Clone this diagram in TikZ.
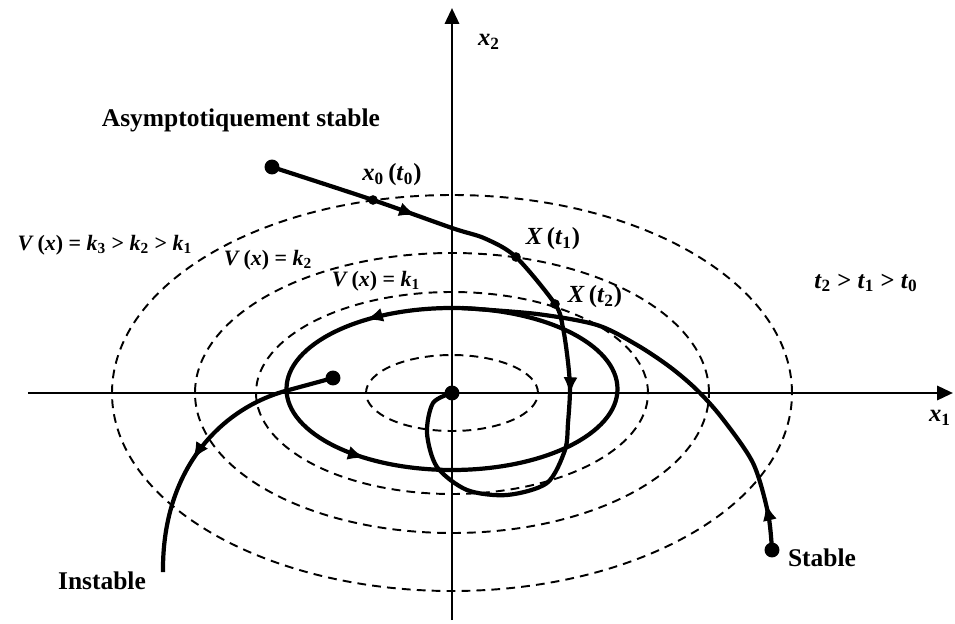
\documentclass[tikz,border=0pt]{standalone}
\usepackage{fontspec}
\setmainfont{Liberation Serif}
\usetikzlibrary{arrows.meta, decorations.markings}
\tikzset{
  axis/.style={line width=1.6pt, -{Triangle[length=9pt, width=8pt]}},
  level/.style={line width=1.1pt, dash pattern=on 5pt off 3.5pt},
  traj/.style={line width=2.4pt},
  midtip/.style={postaction={decorate, decoration={markings,
      mark=at position #1 with {\arrow{Latex[length=10pt, width=8pt]}}}}},
  dot/.style={circle, fill, inner sep=0pt, minimum size=8.5pt},
  smalldot/.style={circle, fill, inner sep=0pt, minimum size=5.5pt},
  title/.style={font=\fontsize{14.5}{16}\selectfont\bfseries},
  lbl/.style={font=\fontsize{12.5}{14}\selectfont\bfseries},
  ptlbl/.style={font=\fontsize{14}{16}\selectfont\bfseries}
}

\begin{document}
\begin{tikzpicture}[x=1cm,y=1cm]
\useasboundingbox (-9.04,-4.6) rectangle (10.06,7.86);

% key points
\coordinate (O) at (0,0);
\coordinate (C) at (0,0.08);
\coordinate (A0) at (-3.6,4.52);
\coordinate (P0) at (-1.58,3.86);
\coordinate (P1) at (1.28,2.72);
\coordinate (P2) at (2.06,1.78);
\coordinate (S0) at (6.4,-3.14);
\coordinate (I0) at (-2.38,0.3);
\coordinate (I1) at (-3.3,0.05);
\coordinate (I2) at (-5.78,-3.58);
\coordinate (xl) at (-8.48,0);
\coordinate (xr) at (10.02,0);
\coordinate (yb) at (0,-4.54);
\coordinate (yt) at (0,7.7);

% level sets V(x)=k
\foreach \rx/\ry in {1.72/0.76, 3.92/2.02, 5.14/2.80, 6.80/3.96}
  \draw[level] (O) ellipse[x radius=\rx, y radius=\ry];

% axes
\draw[axis] (xl) -- (xr);
\draw[axis] (yb) -- (yt);

% trajectories
\draw[traj, midtip=0.36, midtip=0.64] (C) ellipse[x radius=3.31, y radius=1.62];
\draw[traj, midtip=3.05cm, midtip=8.3cm] plot[smooth] coordinates {(A0) (P0) (0,3.3) (0.66,3.09) (P1) (P2) (2.22,1.3) (2.32,0.62) (2.36,0.06) (2.32,-0.6) (2.26,-1.14) (1.9,-1.8) (1.1,-2.04) (0.3,-1.94) (-0.3,-1.48) (-0.5,-0.8) (-0.38,-0.2) (O)};
\draw[traj, midtip=0.95cm] plot[smooth] coordinates {(S0) (6.32,-2.4) (6.02,-1.4) (5.4,-0.5) (4.9,0.06) (4.36,0.52) (3.7,0.96) (2.9,1.36) (1.7,1.58) (0.2,1.7)};
\draw[traj, midtip=3.35cm] (I0) -- (I1) .. controls (-4.6,-0.3) and (-5.8,-1.5) .. (I2);

% points
\node[dot] (odot) at (O) {};
\node[dot] (a0dot) at (A0) {};
\node[dot] (s0dot) at (S0) {};
\node[dot] (i0dot) at (I0) {};
\node[smalldot] (p0dot) at (P0) {};
\node[smalldot] (p1dot) at (P1) {};
\node[smalldot] (p2dot) at (P2) {};

% labels
\node[ptlbl] (x2lbl) at (0.74,7.02) {\textit{x}\textsubscript{2}};
\node[ptlbl] (x1lbl) at (9.76,-0.5) {\textit{x}\textsubscript{1}};
\node[title] (asym) at (-4.22,5.46) {Asymptotiquement stable};
\node[title] (inst) at (-7.0,-3.76) {Instable};
\node[title] (stab) at (7.4,-3.3) {Stable};
\node[lbl] (k3lbl) at (-6.94,2.96) {\textit{V}\,(\textit{x}) = \textit{k}\textsubscript{3} > \textit{k}\textsubscript{2} > \textit{k}\textsubscript{1}};
\node[lbl] (k2lbl) at (-3.68,2.66) {\textit{V}\,(\textit{x}) = \textit{k}\textsubscript{2}};
\node[lbl] (k1lbl) at (-1.52,2.24) {\textit{V}\,(\textit{x}) = \textit{k}\textsubscript{1}};
\node[ptlbl] (t0lbl) at (-1.2,4.36) {\textit{x}\textsubscript{0}\,(\textit{t}\textsubscript{0})};
\node[ptlbl] (t1lbl) at (2.02,3.08) {\textit{X}\,(\textit{t}\textsubscript{1})};
\node[ptlbl] (t2lbl) at (2.86,1.92) {\textit{X}\,(\textit{t}\textsubscript{2})};
\node[ptlbl] (tord) at (8.28,2.2) {\textit{t}\textsubscript{2} > \textit{t}\textsubscript{1} > \textit{t}\textsubscript{0}};
\end{tikzpicture}
\end{document}
